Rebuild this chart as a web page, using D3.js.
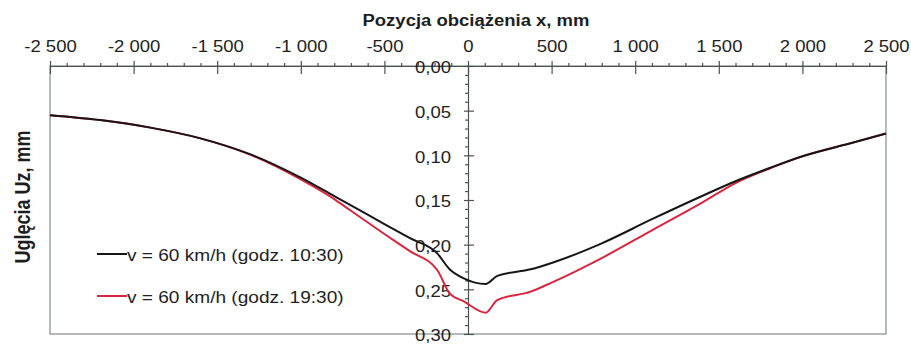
<!DOCTYPE html>
<html>
<head>
<meta charset="utf-8">
<script src="https://cdn.jsdelivr.net/npm/d3@7"></script>
<style>
  body { margin: 0; background: #fff; }
  text { font-family: "Liberation Sans", Arial, sans-serif; fill: #1e1e1e; }
</style>
</head>
<body>
<div id="wykres"></div>
<script>
// Pozycje obciążenia (mm)
const pozycje = [-2500, -2200, -1900, -1600, -1300, -1000, -800, -700, -500, -350, -184, -110, -25, 105, 175, 375, 500, 800, 1100, 1400, 1600, 1800, 2000, 2300, 2500];
// Ugięcia (mm) - godz. 10:30
const ugieciaRano = [0.055, 0.0605, 0.069, 0.081, 0.099, 0.125, 0.1457, 0.1561, 0.1769, 0.1925, 0.2097, 0.2275, 0.2377, 0.2440, 0.2350, 0.2276, 0.2205, 0.1985, 0.1715, 0.1455, 0.1290, 0.1145, 0.1010, 0.0860, 0.0755];
// Ugięcia (mm) - godz. 19:30
const ugieciaWieczor = [0.055, 0.0605, 0.069, 0.081, 0.0995, 0.127, 0.149, 0.162, 0.188, 0.207, 0.2284, 0.2545, 0.2635, 0.2761, 0.2620, 0.2526, 0.2425, 0.2150, 0.1840, 0.1530, 0.1310, 0.1150, 0.1012, 0.0858, 0.0755];

const xMajor = [-2500, -2000, -1500, -1000, -500, 0, 500, 1000, 1500, 2000, 2500];
const xMinor = d3.range(-2400, 2500, 100).filter(d => d % 500 !== 0);
const yMajor = [0, 0.05, 0.10, 0.15, 0.20, 0.25, 0.30];
const yMinor = d3.range(1, 30).filter(d => d % 5 !== 0).map(d => d / 100);

const serie = [
    {nazwa: "v = 60 km/h (godz. 10:30)", wartosci: ugieciaRano, kolor: "#161616"},
    {nazwa: "v = 60 km/h (godz. 19:30)", wartosci: ugieciaWieczor, kolor: "#d7263f"}
];

const width = 911, height = 345;
const rozciagniecie = 1.155; // tekst w oryginale jest poszerzony

const pl = d3.formatLocale({decimal: ",", thousands: " ", grouping: [3], currency: ["", ""], minus: "-"});

const x = d3.scaleLinear().domain([-2500, 2500]).range([50, 886]);
const y = d3.scaleLinear().domain([0, 0.30]).range([66, 334]);

const svg = d3.select("#wykres").append("svg")
    .attr("width", width)
    .attr("height", height);

//Ramka wykresu
svg.append("rect")
    .attr("x", x(-2500)).attr("y", y(0))
    .attr("width", x(2500) - x(-2500)).attr("height", y(0.30) - y(0))
    .attr("fill", "none").attr("stroke", "#8c9494").attr("stroke-width", 1.3);

//Funkcja do poszerzania tekstu
function poszerz(sel) {
    sel.each(function() {
        const len = this.getComputedTextLength();
        d3.select(this).attr("textLength", len * rozciagniecie).attr("lengthAdjust", "spacingAndGlyphs");
    });
}

function stylOsi(g) {
    g.selectAll("path, line").attr("stroke", "#4a5252").attr("stroke-width", 1.2);
}

//Oś X
const gx = svg.append("g").attr("transform", "translate(0," + y(0) + ")");
gx.append("g")
    .call(d3.axisTop(x).tickValues(xMajor).tickSizeInner(5).tickSizeOuter(0).tickPadding(9).tickFormat(pl.format(",d")))
    .call(stylOsi)
    .call(g => g.selectAll("text").attr("font-size", 16).attr("fill", "#1e1e1e").attr("font-family", null).call(poszerz));
gx.append("g")
    .call(d3.axisBottom(x).tickValues(xMajor).tickSize(8).tickFormat(""))
    .call(g => g.select(".domain").remove())
    .call(stylOsi);
gx.append("g")
    .call(d3.axisTop(x).tickValues(xMinor).tickSize(3).tickFormat(""))
    .call(g => g.select(".domain").remove())
    .call(stylOsi);

//Oś Y
const gy = svg.append("g").attr("transform", "translate(" + x(0) + ",0)");
gy.append("g")
    .call(d3.axisLeft(y).tickValues(yMajor).tickSizeInner(4).tickSizeOuter(0).tickPadding(13).tickFormat(pl.format(".2f")))
    .call(stylOsi)
    .call(g => g.selectAll("text").attr("font-size", 16).attr("dy", "0.42em").attr("fill", "#1e1e1e").attr("font-family", null).call(poszerz));
gy.append("g")
    .call(d3.axisRight(y).tickValues(yMajor).tickSize(6).tickFormat(""))
    .call(g => g.select(".domain").remove())
    .call(stylOsi);
gy.append("g")
    .call(d3.axisLeft(y).tickValues(yMinor).tickSize(3).tickFormat(""))
    .call(g => g.select(".domain").remove())
    .call(stylOsi);

//Tytuły osi
svg.append("text")
    .attr("x", 476).attr("y", 26)
    .attr("text-anchor", "middle")
    .attr("font-size", 16).attr("font-weight", "bold")
    .text("Pozycja obciążenia x, mm")
    .call(poszerz);

svg.append("text")
    .attr("transform", "translate(30,197) scale(1.2,1) rotate(-90)")
    .attr("text-anchor", "middle")
    .attr("font-size", 18).attr("font-weight", "bold")
    .text("Uglęcia Uz, mm");

//Linie
const linia = d3.line()
    .x((d, i) => x(pozycje[i]))
    .y(d => y(d))
    .curve(d3.curveMonotoneX);

svg.selectAll(".linia")
    .data(serie.slice().reverse())
    .enter()
    .append("path")
    .attr("class", "linia")
    .attr("fill", "none")
    .attr("stroke", d => d.kolor)
    .attr("stroke-width", 2)
    .attr("stroke-linejoin", "round")
    .attr("d", d => linia(d.wartosci));

//Legenda
const legenda = svg.selectAll(".legenda")
    .data(serie)
    .enter()
    .append("g")
    .attr("class", "legenda")
    .attr("transform", (d, i) => "translate(97," + (254 + i * 42) + ")");

legenda.append("line")
    .attr("x1", 0).attr("x2", 30)
    .attr("stroke", d => d.kolor).attr("stroke-width", 2);

legenda.append("text")
    .attr("x", 30).attr("y", 6.5)
    .attr("font-size", 16.5)
    .text(d => d.nazwa)
    .call(poszerz);
</script>
</body>
</html>
